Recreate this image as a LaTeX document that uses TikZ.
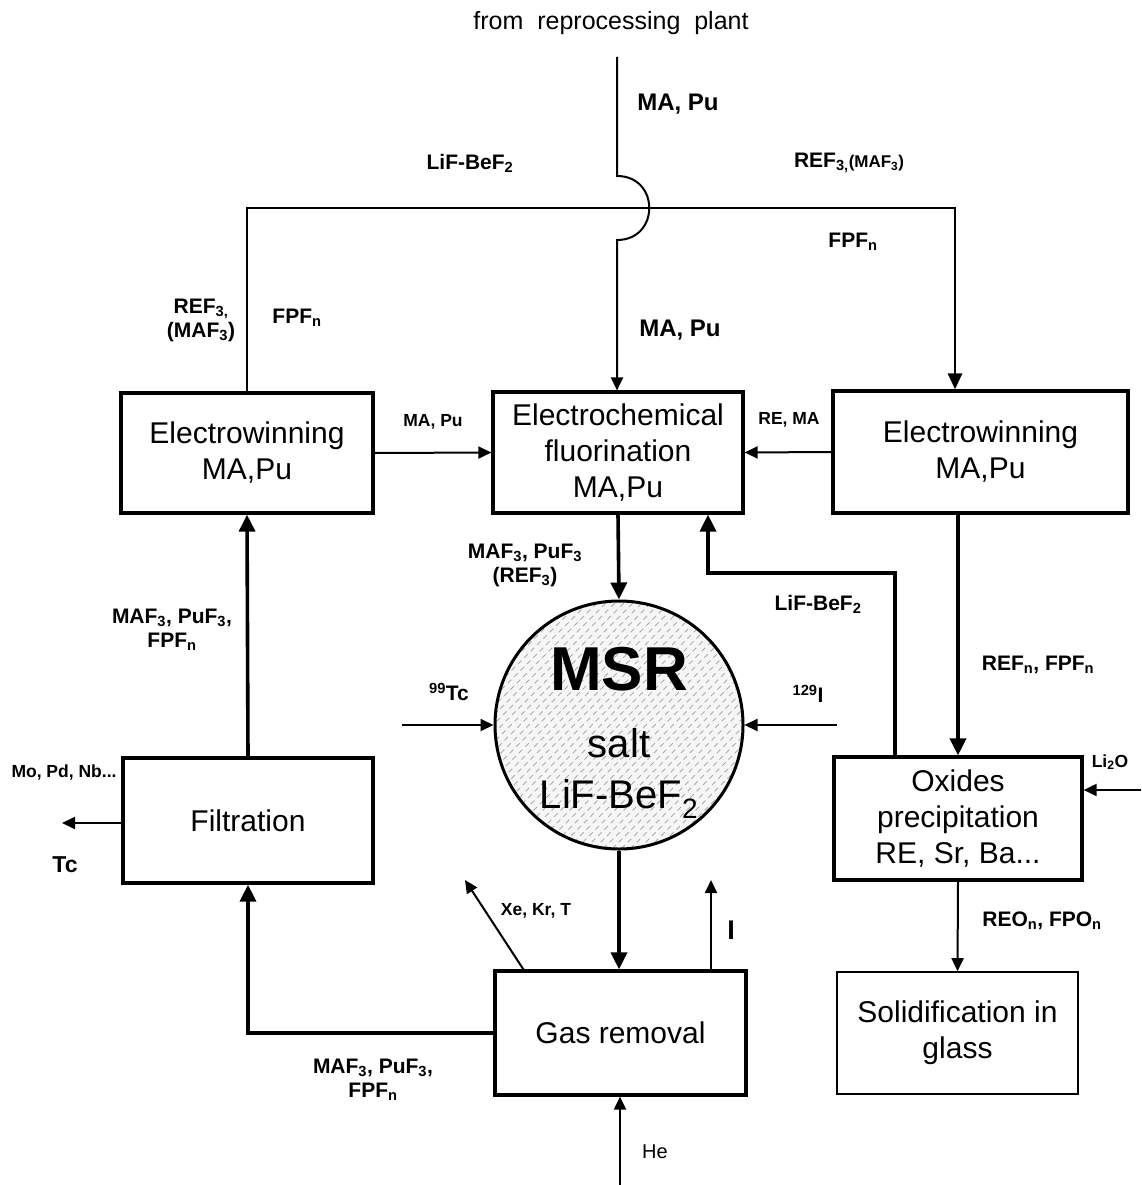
\documentclass[tikz,border=0pt]{standalone}
\usepackage{fontspec}
\setmainfont{Liberation Sans}
\usetikzlibrary{arrows.meta,calc}
\begin{document}
\begin{tikzpicture}[x=1pt,y=-1pt,
  box/.style={draw, line width=3.2pt, align=center, inner sep=0pt, font=\fontsize{30}{36}\selectfont},
  thinarr/.style={line width=2pt, -{Triangle[length=13pt,width=12pt]}},
  thickarr/.style={line width=3.6pt, -{Triangle[length=17pt,width=16pt]}},
  plainline/.style={line width=2.8pt},
  lab/.style={font=\fontsize{21}{24}\selectfont\bfseries, align=center, inner sep=0pt},
  slab/.style={font=\fontsize{17.5}{19}\selectfont\bfseries, align=center, inner sep=0pt},
]
\useasboundingbox (0,0) rectangle (1141,1185);

% boxes
\node[box, minimum width=252pt, minimum height=120pt] (ewL) at (247,453) {Electrowinning\\MA,Pu};
\node[box, minimum width=250pt, minimum height=121pt] (ecf) at (618,452.5) {Electrochemical\\fluorination\\MA,Pu};
\node[box, minimum width=295pt, minimum height=122pt] (ewR) at (980.5,452) {Electrowinning\\MA,Pu};
\node[box, minimum width=250pt, minimum height=125pt] (filt) at (248,820.5) {Filtration};
\node[box, minimum width=251pt, minimum height=124pt] (gas) at (620.5,1033) {Gas removal};
\node[box, minimum width=248pt, minimum height=123pt] (oxp) at (958,818.5) {Oxides\\precipitation\\RE, Sr, Ba...};
\node[box, line width=1.6pt, minimum width=241pt, minimum height=122pt] (sol) at (957.5,1033) {Solidification in\\glass};

% MSR circle with hatching
\begin{scope}
  \clip (619,725) circle (124pt);
  \fill[gray!7] (619,725) circle (124pt);
  \foreach \k in {-261,-252,...,261}
    \draw[gray!65, line width=1pt, dash pattern=on 5pt off 4pt] (619+\k-130,725+130) -- (619+\k+130,725-130);
\end{scope}
\node[draw, circle, line width=3pt, minimum size=248pt, inner sep=0pt] (msr) at (619,725) {};
\node[font=\fontsize{62}{62}\selectfont\bfseries, anchor=base, inner sep=0pt] (msrA) at (619,690) {MSR};
\node[font=\fontsize{40}{40}\selectfont, anchor=base, inner sep=0pt] (msrB) at (619,757) {salt};
\node[font=\fontsize{40}{40}\selectfont, anchor=base, inner sep=0pt] (msrC) at (619,808) {LiF-BeF\textsubscript{2}};

% connectors
\coordinate (src) at (617,57);
\coordinate (hopA) at (617,176);
\coordinate (hopB) at (617,240);
\draw[thinarr] (src) -- (hopA) .. controls (660,176) and (660,240) .. (hopB) -- (hopB |- ecf.north);

\coordinate (topR) at (955,208);
\draw[plainline, -{Triangle[length=16pt,width=14pt]}] (ewL.north) |- (topR) -- (topR |- ewR.north);

\draw[thinarr] (ewL.east) -- (ecf.west);
\draw[thinarr] (ewR.west) -- (ecf.east);
\draw[thickarr] (ecf.south) -- (msr.north);

\coordinate (lbA) at (895,573);
\coordinate (lbB) at (708,573);
\draw[thickarr] (oxp.north -| lbA) -- (lbA) -- (lbB) -- (lbB |- ecf.south);

\draw[thickarr] (ewR.south -| oxp.north) -- (oxp.north);
\draw[thinarr] (oxp.south) -- (sol.north);

\coordinate (li) at (1141,790);
\draw[thinarr] (li) -- (li -| oxp.east);

\coordinate (tcIn) at (402,725);
\draw[thinarr] (tcIn) -- (msr.west);
\coordinate (iIn) at (837,725);
\draw[thinarr] (iIn) -- (msr.east);

\draw[thickarr] (msr.south) -- (msr.south |- gas.north);

\coordinate (xeE) at (465,880);
\draw[thinarr] ($(gas.north west)+(30,0)$) -- (xeE);
\coordinate (iOut) at (711,880);
\draw[thinarr] (iOut |- gas.north) -- (iOut);
\coordinate (heIn) at (620,1185);
\draw[thinarr] (heIn) -- (heIn |- gas.south);

\draw[thickarr] (gas.west) -| (filt.south);
\draw[thickarr] (filt.north) -- (ewL.south);
\coordinate (tcOut) at (62,823);
\draw[thinarr] (filt.west |- tcOut) -- (tcOut);

% labels
\node[font=\fontsize{25}{25}\selectfont, inner sep=0pt] (lFrom) at (611,23) {from~~reprocessing~~plant};
\node[lab, font=\fontsize{24}{26}\selectfont\bfseries] (lMA1) at (678,104) {MA, Pu};
\node[lab] (lLiF1) at (470,163) {LiF-BeF\textsubscript{2}};
\node[lab] (lREF1) at (849,163) {REF\textsubscript{3,}{\fontsize{17}{17}\selectfont(MAF\textsubscript{3})}};
\node[lab] (lFPF1) at (853,242) {FPF\textsubscript{n}};
\node[lab] (lREF2) at (201,320) {REF\textsubscript{3,}\\(MAF\textsubscript{3})};
\node[lab] (lFPF2) at (297,318) {FPF\textsubscript{n}};
\node[lab, font=\fontsize{24}{26}\selectfont\bfseries] (lMA2) at (680,330) {MA, Pu};
\node[slab] (lMA3) at (433,422) {MA, Pu};
\node[slab] (lRE) at (789,420) {RE, MA};
\node[lab] (lMAF1) at (525,565) {MAF\textsubscript{3}, PuF\textsubscript{3}\\(REF\textsubscript{3})};
\node[lab] (lLiF2) at (818,604) {LiF-BeF\textsubscript{2}};
\node[lab] (lTc99) at (449,692) {\textsuperscript{99}Tc};
\node[lab] (lI129) at (808,694) {\textsuperscript{129}I};
\node[lab] (lREFn) at (1038,665) {REF\textsubscript{n}, FPF\textsubscript{n}};
\node[slab] (lLi) at (1110,762) {Li\textsubscript{2}O};
\node[lab] (lMAF2) at (172,630) {MAF\textsubscript{3}, PuF\textsubscript{3},\\FPF\textsubscript{n}};
\node[slab] (lMo) at (64,773) {Mo, Pd, Nb...};
\node[lab, font=\fontsize{23}{24}\selectfont\bfseries] (lTc) at (65,865) {Tc};
\node[slab] (lXe) at (536,911) {Xe, Kr, T};
\node[lab, font=\fontsize{27}{28}\selectfont\bfseries] (lI) at (731,930) {I};
\node[lab, font=\fontsize{20}{22}\selectfont] (lHe) at (655,1152) {He};
\node[lab] (lREO) at (1042,921) {REO\textsubscript{n}, FPO\textsubscript{n}};
\node[lab] (lMAF3) at (373,1080) {MAF\textsubscript{3}, PuF\textsubscript{3},\\FPF\textsubscript{n}};
\end{tikzpicture}
\end{document}
